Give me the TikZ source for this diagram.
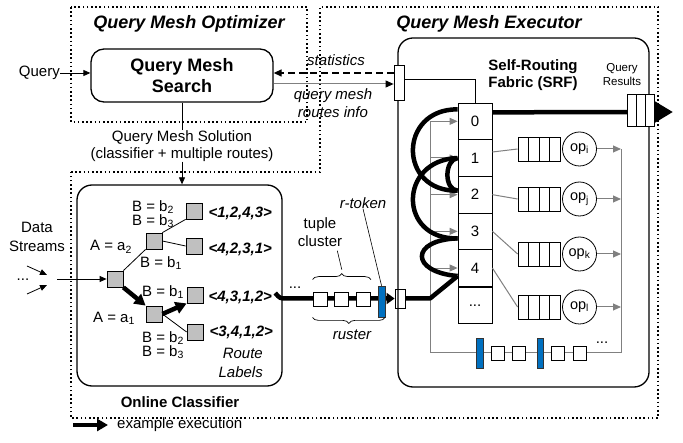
\documentclass[tikz,border=0pt]{standalone}
\usepackage{fontspec}
\setmainfont{Liberation Sans}
\usetikzlibrary{arrows.meta, positioning, calc, decorations.pathreplacing}
\pgfdeclarelayer{background}
\pgfsetlayers{background,main}
\definecolor{TokenBlue}{HTML}{0070C0}
\definecolor{WireGray}{HTML}{808080}
\definecolor{LeafGray}{HTML}{C0C0C0}

\begin{document}
\begin{tikzpicture}[
    x=1pt, y=-1pt,
    every node/.style={inner sep=0pt, font=\fontsize{15}{17}\selectfont},
    region/.style={line width=1.6pt, dash pattern=on 1.6pt off 2.6pt},
    title/.style={font=\fontsize{18}{20}\selectfont\bfseries\itshape},
    box/.style={draw, line width=1.3pt, rounded corners=13pt},
    leaf/.style={draw, line width=0.8pt, fill=LeafGray, minimum size=16pt},
    tuple/.style={draw, line width=0.8pt, fill=white, minimum size=14pt},
    token/.style={draw=black!80, line width=0.6pt, fill=TokenBlue, minimum width=6.5pt, minimum height=31pt},
    port/.style={draw, line width=0.8pt, fill=white},
    cell/.style={draw, line width=0.8pt, fill=white, minimum width=34pt, minimum height=36.67pt},
    queue/.style={draw, line width=0.8pt, fill=white, minimum width=42pt, minimum height=24pt,
        path picture={\foreach \f in {#1}
            \draw[line width=0.8pt] ($(path picture bounding box.south west)!\f!(path picture bounding box.south east)$)
                -- ($(path picture bounding box.north west)!\f!(path picture bounding box.north east)$);}},
    op/.style={draw, circle, line width=0.8pt, fill=white, minimum size=34pt, font=\fontsize{14.5}{16}\selectfont},
    cond/.style={align=left, font=\fontsize{15}{13}\selectfont},
    rlabel/.style={font=\fontsize{15}{17}\selectfont\bfseries\itshape},
    arr/.style={line width=0.8pt, -{Triangle[length=7pt,width=6pt]}},
    wire/.style={draw=WireGray, line width=1pt},
    wirearr/.style={wire, -{Triangle[length=8pt,width=7pt]}},
    exec/.style={line width=4.5pt},
    execarr/.style={exec, -{Triangle[length=11pt,width=12pt]}},
    brc/.style={decorate, decoration={brace, amplitude=6pt}, line width=0.7pt}
    ]
    \useasboundingbox (0,0) rectangle (683,443);

    % Regions
    \draw[region] (71,7) rectangle (307,122);
    \draw[region] (71,172) -- (320,172) -- (320,7) -- (658,7) -- (658,418) -- (71,418) -- cycle;
    \node[title] (opttitle) at (189,24) {Query Mesh Optimizer};
    \node[title] (exetitle) at (489,24) {Query Mesh Executor};

    % Optimizer
    \node[box, minimum width=182pt, minimum height=53pt, align=center,
        font=\fontsize{18}{20.5}\selectfont\bfseries] (search) at (182,75.5) {Query Mesh\\Search};
    \node[anchor=east] (query) at (60,73) {Query};
    \draw[arr] (query.east) -- (query.east -| search.west);
    \node[align=center] (sol) at (182,146) {Query Mesh Solution\\(classifier + multiple routes)};

    % Classifier
    \node[box, minimum width=205pt, minimum height=201pt, rounded corners=15pt] (clf) at (179.5,285.5) {};
    \node[font=\fontsize{15}{17}\selectfont\bfseries] (clftitle) at (180,402) {Online Classifier};
    \draw[line width=0.8pt] (search.south) -- (sol.north);
    \draw[arr] (sol.south) -- (sol.south |- clf.north);

    \node[leaf] (root) at (115,279) {};
    \node[leaf] (na2) at (154,241) {};
    \node[leaf] (na1) at (154,314) {};
    \node[leaf] (l1) at (194,211) {};
    \node[leaf] (l2) at (194,246) {};
    \node[leaf] (l3) at (195,295) {};
    \node[leaf] (l4) at (195,332) {};
    \node[rlabel, right=6pt of l1, yshift=-2pt] (r1) {<1,2,4,3>};
    \node[rlabel, right=6pt of l2, yshift=-3pt] (r2) {<4,2,3,1>};
    \node[rlabel, right=5pt of l3, yshift=-2pt] (r3) {<4,3,1,2>};
    \node[rlabel, right=6pt of l4] (r4) {<3,4,1,2>};
    \node[align=right, anchor=east, font=\fontsize{15}{19}\selectfont\itshape] (rlbls) at (263,363) {Route\\Labels};

    \node[cond] (cb23u) at (153,214) {B = b\textsubscript{2}\\B = b\textsubscript{3}};
    \node (ca2) at (111,247) {A = a\textsubscript{2}};
    \node (cb1u) at (161,263) {B = b\textsubscript{1}};
    \node (cb1l) at (163,292) {B = b\textsubscript{1}};
    \node (ca1) at (114,318) {A = a\textsubscript{1}};
    \node[cond] (cb23l) at (163,345) {B = b\textsubscript{2}\\B = b\textsubscript{3}};

    \draw[line width=0.8pt] (root.north east) -- (na2.south west);
    \draw[line width=0.8pt] (na2.north east) -- (l1.south west);
    \draw[line width=0.8pt] (na2.east) -- (l2.west);
    \draw[line width=0.8pt] (na1.east) -- (l4.west);
    \draw[execarr] (root.south east) -- (na1.north west);
    \draw[execarr] (na1.east) -- (l3.south west);

    % Data streams
    \node[align=center, font=\fontsize{15}{19}\selectfont] (streams) at (37,237) {Data\\Streams};
    \node (indots) at (23,280) {...};
    \coordinate (dsin) at (57,279);
    \coordinate (s1a) at (27,266);
    \coordinate (s1b) at (47,275);
    \coordinate (s2a) at (27,294);
    \coordinate (s2b) at (47,285);
    \draw[arr] (dsin) -- (root);
    \draw[arr] (s1a) -- (s1b);
    \draw[arr] (s2a) -- (s2b);

    % Ruster on its way in
    \node[tuple] (t1) at (320,299) {};
    \node[tuple, right=7pt of t1] (t2) {};
    \node[tuple, right=7pt of t2] (t3) {};
    \node[token, right=7pt of t3, yshift=-2.5pt] (tok) {};
    \node[port, minimum width=10pt, minimum height=19pt] (inport) at (400,298.5) {};
    \node (rdots) at (295,288) {...};
    \coordinate (hook) at ([xshift=3pt,yshift=4pt]r3.east);
    \begin{pgfonlayer}{background}
        \draw[exec, -{Triangle[length=8pt,width=11pt]}] (hook) .. controls (280,298.5) .. (287,298.5) -- (inport.west);
    \end{pgfonlayer}
    \coordinate (tctip) at ($(t1.north west)!0.5!(t3.north east)+(0,-18)$);
    \draw[brc] ([yshift=12pt]t1.north west) -- ([yshift=12pt]t3.north east);
    \node[align=center, font=\fontsize{15}{18}\selectfont] (tclabel) at (320,232) {tuple\\cluster};
    \draw[line width=0.6pt] ([xshift=-5pt,yshift=-4pt]tclabel.south east) -- ([yshift=4pt]tctip);
    \coordinate (rb1) at ([yshift=-11pt]t1.south west);
    \coordinate (rb2) at (tok.east |- rb1);
    \draw[brc] (rb2) -- (rb1);
    \node[font=\fontsize{15}{17}\selectfont\itshape] (rusterlbl) at (352,335) {ruster};
    \node[font=\fontsize{15}{17}\selectfont\itshape] (rtlabel) at (363,203) {r-token};
    \draw[line width=0.6pt] (rtlabel.south) -- (tok.north);

    % Executor
    \node[box, minimum width=251pt, minimum height=349pt, rounded corners=15pt] (srf) at (523.5,212.5) {};
    \node[align=center, font=\fontsize{15}{16.5}\selectfont\bfseries] (srftitle) at (533,75) {Self-Routing\\Fabric (SRF)};
    \node[align=center, font=\fontsize{11.5}{14}\selectfont] (qrlabel) at (622,75) {Query\\Results};
    \node[port, minimum width=10pt, minimum height=35pt] (statport) at (399,82.5) {};

    \coordinate (statin) at ([yshift=9.5pt]statport.west);
    \coordinate (routesout) at ([yshift=-1.5pt]statport.west);
    \draw[line width=1.3pt, dash pattern=on 7pt off 4pt, -{Triangle[length=8pt,width=7pt]}] (statin) -- (statin -| search.east);
    \draw[wire, -{Triangle[length=8pt,width=7pt,color=black]}] (routesout -| search.east) -- (routesout);
    \node[font=\fontsize{15}{17}\selectfont\itshape] (stats) at (336,60) {statistics};
    \node[align=center, font=\fontsize{15}{18}\selectfont\itshape] (routesinfo) at (333,103) {query mesh\\routes info};

    \foreach \i in {0,...,4}
        \node[cell] (c\i) at (475,{121.33+36.67*\i}) {\i};
    \node[cell, below=0pt of c4] (c5) {...};
    \draw[line width=0.8pt] ([yshift=3.5pt]statport.east) -| (c0.north);

    % Gray feedback wires
    \coordinate (gl) at (430,353);
    \coordinate (gr) at (621,353);
    \foreach \n/\y in {i/149, j/199, k/254, l/307} {
        \node[queue={0.25,0.5,0.75}] (q\n) at (539,\y) {};
        \node[op] (op\n) at (579.5,\y) {op\textsubscript{\n}};
        \draw[wirearr] (op\n.east) -- (op\n.east -| gr);
    }
    \draw[wire] (c0.west -| gl) -- (gl) -- (gr) -- (gr |- opi.east);
    \foreach \i in {0,...,4}
        \draw[wirearr] (c\i.west -| gl) -- (c\i.west);
    \draw[wire] ([yshift=6pt]c1.east) -- (qi.west);
    \draw[wire] (c2.east) -- (qj.west);
    \draw[wire] (c3.east) -- (qk.west);
    \draw[wire] (c4.east) -- (ql.west);

    \node[token, minimum height=30pt] (bt1) at (480,353) {};
    \node[tuple, minimum width=13pt, right=7.5pt of bt1] (bq1) {};
    \node[tuple, minimum width=13pt, right=7pt of bq1] (bq2) {};
    \node[token, minimum height=30pt, right=11pt of bq2] (bt2) {};
    \node[tuple, minimum width=13pt, right=7pt of bt2] (bq3) {};
    \node[tuple, minimum width=13pt, right=8pt of bq3] (bq4) {};
    \node (bdots) at (602,343) {...};

    % Example route through the fabric
    \coordinate (e0) at ([yshift=12pt]c0.west);
    \coordinate (e1) at (c1.west);
    \coordinate (e2) at ([yshift=4pt]c2.west);
    \coordinate (e3) at ([yshift=-7pt]c3.west);
    \coordinate (e4) at ([yshift=-8pt]c4.west);
    \draw[exec, line join=round] (inport.east) -- (inport.east -| gl) -- (e4);
    \draw[exec] (e4) .. controls (410,272) and (410,240) .. (e3);
    \draw[exec] (e3) .. controls (398,240) and (398,160) .. (e1);
    \draw[exec] (e1) .. controls (444,160) and (444,190) .. (e2);
    \draw[exec] (e2) .. controls (398,192) and (398,109) .. (e0);

    \node[queue={0.333,0.667}, minimum width=27pt, minimum height=32pt] (results) at (640.5,110) {};
    \coordinate (outtip) at (673,112);
    \begin{pgfonlayer}{background}
        \draw[exec, -{Triangle[length=18pt,width=20pt]}] ([yshift=9pt]c0.east) -- (outtip);
    \end{pgfonlayer}

    % Legend
    \coordinate (lega) at (73,425);
    \coordinate (legb) at (108,425);
    \draw[execarr] (lega) -- (legb);
    \node[anchor=west] (legtext) at (117,425) {example execution};
\end{tikzpicture}
\end{document}
